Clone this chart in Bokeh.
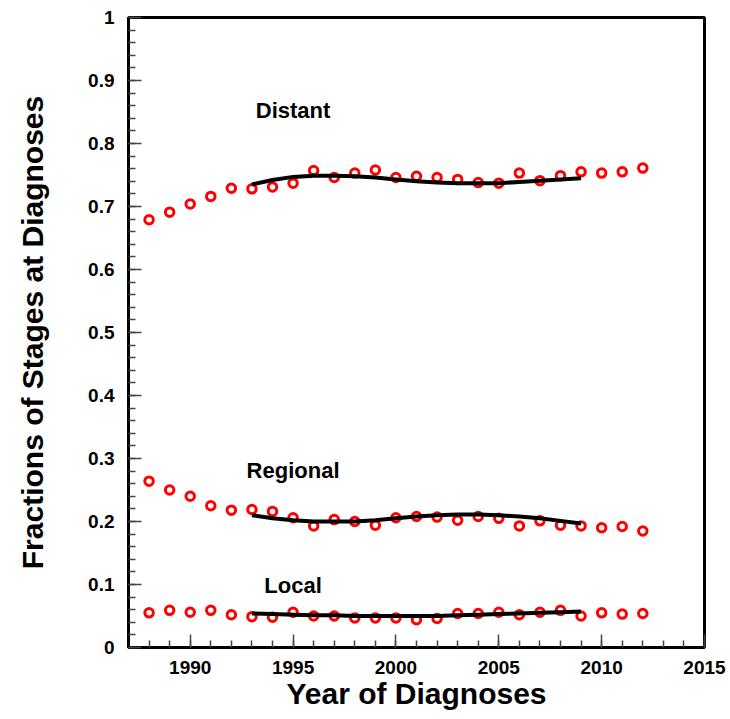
from bokeh.plotting import figure
from bokeh.models import FixedTicker, CustomJSTickFormatter, Range1d
from bokeh.core.properties import value
from bokeh.embed import file_html
from bokeh.resources import INLINE

years = list(range(1988, 2013))
distant = [0.679, 0.691, 0.704, 0.716, 0.729, 0.728, 0.731, 0.737, 0.757, 0.746,
           0.753, 0.758, 0.746, 0.748, 0.746, 0.743, 0.738, 0.737, 0.753, 0.741,
           0.749, 0.755, 0.753, 0.755, 0.761]
regional = [0.264, 0.250, 0.240, 0.225, 0.218, 0.219, 0.216, 0.206, 0.193, 0.203,
            0.200, 0.194, 0.206, 0.208, 0.207, 0.202, 0.208, 0.205, 0.193, 0.201,
            0.194, 0.193, 0.190, 0.192, 0.185]
local = [0.055, 0.059, 0.056, 0.059, 0.052, 0.049, 0.048, 0.056, 0.050, 0.050,
         0.047, 0.047, 0.047, 0.044, 0.046, 0.054, 0.054, 0.056, 0.052, 0.056,
         0.059, 0.050, 0.055, 0.053, 0.054]

fit_years = list(range(1993, 2010))
distant_fit = [0.735, 0.742, 0.747, 0.749, 0.749, 0.748, 0.746, 0.743, 0.740, 0.738,
               0.737, 0.737, 0.737, 0.739, 0.741, 0.743, 0.745]
regional_fit = [0.210, 0.205, 0.202, 0.200, 0.200, 0.200, 0.202, 0.205, 0.208, 0.210,
                0.211, 0.211, 0.210, 0.208, 0.205, 0.201, 0.197]
local_fit = [0.054, 0.053, 0.052, 0.051, 0.051, 0.050, 0.050, 0.050, 0.050, 0.050,
             0.051, 0.052, 0.053, 0.054, 0.055, 0.056, 0.057]

label_names = ["Distant", "Regional", "Local"]
label_x = [1995.0, 1995.0, 1995.0]
label_y = [0.852, 0.281, 0.098]

x_major = [1990, 1995, 2000, 2005, 2010, 2015]
x_minor = list(range(1987, 2016))
y_major = [round(i * 0.1, 1) for i in range(11)]
y_minor = [round(i * 0.02, 2) for i in range(51)]

FONT = "Liberation Sans"

p = figure(width=730, height=719, output_backend="svg", toolbar_location=None,
           x_range=Range1d(1987, 2015), y_range=Range1d(0, 1),
           min_border_left=128, min_border_right=26, min_border_top=17,
           min_border_bottom=72)
p.grid.visible = False
p.outline_line_color = "black"
p.outline_line_width = 3
p.background_fill_color = "white"
p.border_fill_color = "white"

for ax in (p.xaxis[0], p.yaxis[0]):
    ax.axis_line_width = 3
    ax.axis_line_color = "black"
    ax.major_tick_in = 13
    ax.major_tick_out = 0
    ax.minor_tick_in = 7
    ax.minor_tick_out = 0
    ax.major_tick_line_color = "#444444"
    ax.minor_tick_line_color = "#444444"
    ax.major_tick_line_width = 1.5
    ax.minor_tick_line_width = 1.5
    ax.major_label_text_font = FONT
    ax.major_label_text_font_style = "bold"
    ax.major_label_text_font_size = "19px"
    ax.major_label_text_color = "black"
    ax.axis_label_text_font = FONT
    ax.axis_label_text_font_style = "bold"
    ax.axis_label_text_font_size = "30px"
    ax.axis_label_text_color = "black"

p.xaxis.ticker = FixedTicker(ticks=x_major, minor_ticks=x_minor)
p.yaxis.ticker = FixedTicker(ticks=y_major, minor_ticks=y_minor)
p.yaxis.formatter = CustomJSTickFormatter(code="return tick.toFixed(1).replace(/\\.0$/, '');")
p.xaxis.axis_label = "Year of Diagnoses"
p.yaxis.axis_label = "Fractions of Stages at Diagnoses"
p.xaxis.major_label_standoff = 13
p.yaxis.major_label_standoff = 14
p.xaxis.axis_label_standoff = 0
p.yaxis.axis_label_standoff = 36

for series in (distant, regional, local):
    p.scatter(years, series, marker="circle", size=8.5, fill_color=None,
              line_color="red", line_width=3)

for fit in (distant_fit, regional_fit, local_fit):
    p.line(fit_years, fit, line_color="black", line_width=4)

p.text(x=label_x, y=label_y, text=label_names, text_font=value(FONT),
       text_font_style="bold", text_font_size="22px", text_align="center",
       text_baseline="middle", text_color="black")

open("out.html", "w").write(file_html(p, INLINE))
